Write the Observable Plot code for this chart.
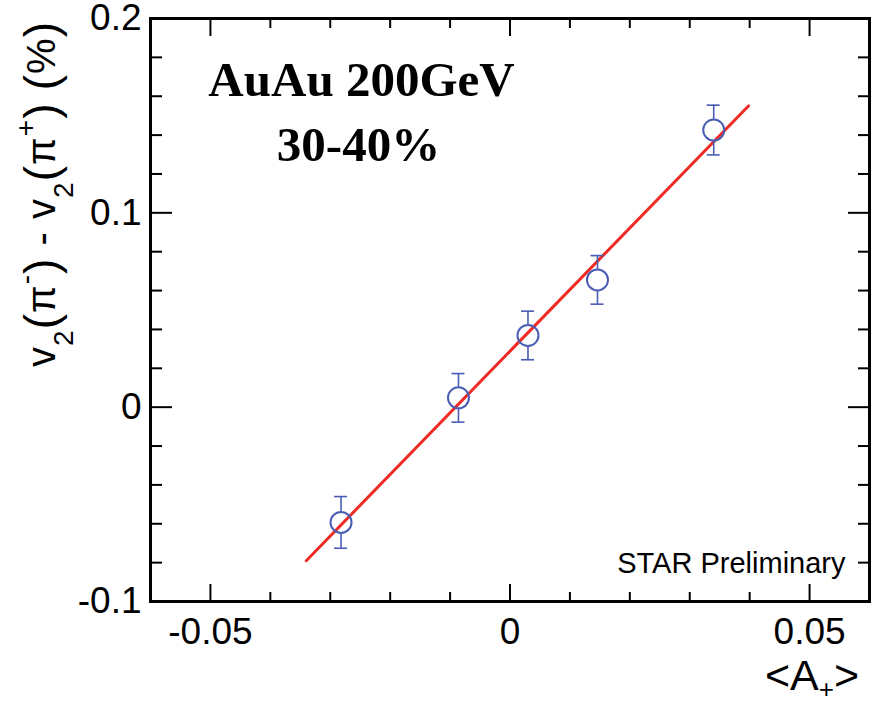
<!DOCTYPE html>
<html><head><meta charset="utf-8">
<script src="https://cdn.jsdelivr.net/npm/d3@7"></script>
<script src="https://cdn.jsdelivr.net/npm/@observablehq/plot@0.6"></script>
<style>body{margin:0;background:#fff} #chart svg{display:block;background:#fff}</style>
</head><body><div id="chart"></div>
<script>
// ---- data ----
const asym   = [-0.0282, -0.0086, 0.0030, 0.0146, 0.0340];   // <A+>
const dv2    = [-0.0593,  0.0048, 0.0369, 0.0655, 0.1426];   // v2(pi-) - v2(pi+) (%)
const dv2Err = [ 0.0133,  0.0125, 0.0125, 0.0125, 0.0128];
const fitX   = [-0.0340, 0.0398];
const fitY   = [-0.0790, 0.1550];
const xMajor = [-0.05, 0, 0.05];
const xMajorLabels = ["-0.05", "0", "0.05"];
const xMinor = [-0.04, -0.03, -0.02, -0.01, 0.01, 0.02, 0.03, 0.04];
const yMajor = [-0.1, 0, 0.1, 0.2];
const yMajorLabels = ["-0.1", "0", "0.1", "0.2"];
const yMinor = [-0.08, -0.06, -0.04, -0.02, 0.02, 0.04, 0.06, 0.08, 0.12, 0.14, 0.16, 0.18];
const notes = ["AuAu 200GeV", "30-40%"];
const prelim = "STAR Preliminary";
// kinds: 0 normal, 1 subscript, 2 tall bracket, 3 superscript
const yLabelParts = [["v",0],["2",1],["(",2],["π",0],["-",3],[")",2],[" - ",0],["v",0],["2",1],["(",2],["π",0],["+",3],[")",2],[" ",0],["(",2],["%",0],[")",2]];
const xLabelParts = [["<A",0],["+",1],[">",0]];

const pts = asym.map((x, i) => ({x, y: dv2[i], e: dv2Err[i]}));
const fit = fitX.map((x, i) => ({x, y: fitY[i]}));

const BLUE = "#4a5db5", RED = "#ee2b24";
const SANS = "'Liberation Sans', Arial, Helvetica, sans-serif";
const SERIF = "'Liberation Serif', 'Times New Roman', serif";
const fx = d => xMajorLabels[xMajor.indexOf(d)];
const fy = d => yMajorLabels[yMajor.indexOf(d)];
const none = () => "";
const R = 10.5;

const chart = Plot.plot({
  width: 879, height: 703,
  marginLeft: 150, marginRight: 10, marginTop: 18, marginBottom: 102,
  x: {domain: [-0.06, 0.06]},
  y: {domain: [-0.1, 0.2]},
  style: {background: "#fff", color: "#000"},
  marks: [
    // bottom axis
    Plot.axisX({anchor: "bottom", ticks: xMajor, tickFormat: fx, tickSize: -17, tickPadding: 33, fontSize: 37, fontFamily: SANS, label: null, strokeWidth: 2}),
    Plot.axisX({anchor: "bottom", ticks: xMinor, tickFormat: none, tickSize: -9, label: null, strokeWidth: 2}),
    // top axis
    Plot.axisX({anchor: "top", ticks: xMajor, tickFormat: none, tickSize: -17, label: null, strokeWidth: 2}),
    Plot.axisX({anchor: "top", ticks: xMinor, tickFormat: none, tickSize: -9, label: null, strokeWidth: 2}),
    // left axis
    Plot.axisY({anchor: "left", ticks: yMajor, tickFormat: fy, tickSize: -22, tickPadding: 31, fontSize: 37, fontFamily: SANS, label: null, strokeWidth: 2}),
    Plot.axisY({anchor: "left", ticks: yMinor, tickFormat: none, tickSize: -12, label: null, strokeWidth: 2}),
    // right axis
    Plot.axisY({anchor: "right", ticks: yMajor, tickFormat: none, tickSize: -22, label: null, strokeWidth: 2}),
    Plot.axisY({anchor: "right", ticks: yMinor, tickFormat: none, tickSize: -12, label: null, strokeWidth: 2}),
    Plot.frame({stroke: "#000", strokeWidth: 3}),
    // fit line
    Plot.line(fit, {x: "x", y: "y", stroke: RED, strokeWidth: 3}),
    // error bars (outside the marker)
    Plot.ruleX(pts, {x: "x", y1: d => d.y + d.e, y2: "y", insetBottom: R, stroke: BLUE, strokeWidth: 1.6}),
    Plot.ruleX(pts, {x: "x", y1: "y", y2: d => d.y - d.e, insetTop: R, stroke: BLUE, strokeWidth: 1.6}),
    Plot.ruleY(pts, {y: d => d.y + d.e, x1: "x", x2: "x", insetLeft: -6.5, insetRight: -6.5, stroke: BLUE, strokeWidth: 1.6}),
    Plot.ruleY(pts, {y: d => d.y - d.e, x1: "x", x2: "x", insetLeft: -6.5, insetRight: -6.5, stroke: BLUE, strokeWidth: 1.6}),
    Plot.dot(pts, {x: "x", y: "y", r: R, stroke: BLUE, strokeWidth: 2, fill: "none"}),
    // annotations
    Plot.text([notes[0]], {text: d => d, frameAnchor: "top-left", dx: 211, dy: 77, textAnchor: "middle", lineAnchor: "bottom", fontSize: 49, fontWeight: "bold", fontFamily: SERIF, fill: "#000"}),
    Plot.text([notes[1]], {text: d => d, frameAnchor: "top-left", dx: 208, dy: 142, textAnchor: "middle", lineAnchor: "bottom", fontSize: 49, fontWeight: "bold", fontFamily: SERIF, fill: "#000"}),
    Plot.text([prelim], {text: d => d, frameAnchor: "bottom-right", dx: -24, dy: -29, textAnchor: "end", lineAnchor: "bottom", fontSize: 29, fontFamily: SANS, fill: "#000"})
  ]
});
document.getElementById("chart").appendChild(chart);

// axis titles with sub/superscripts as real SVG text
function richText(parent, parts, sizes, shifts) {
  let cur = 0;
  parts.forEach(([t, k]) => {
    const s = shifts[k];
    parent.append("tspan").attr("dy", s - cur).style("font-size", sizes[k] + "px").text(t);
    cur = s;
  });
}
const svg = d3.select(chart);
const yl = svg.append("text")
  .attr("transform", "translate(55,367) rotate(-90)")
  .attr("text-anchor", "start")
  .attr("fill", "#000")
  .style("font-family", SANS)
  .style("font-size", "40px");
richText(yl, yLabelParts, [40, 28, 46, 28], [0, 18, 2, -20]);
yl.attr("textLength", 345).attr("lengthAdjust", "spacing");

const xl = svg.append("text")
  .attr("transform", "translate(765,690)")
  .attr("text-anchor", "start")
  .attr("fill", "#000")
  .style("font-family", SANS)
  .style("font-size", "43px");
richText(xl, xLabelParts, [43, 26], [0, 8]);
</script>
</body></html>
